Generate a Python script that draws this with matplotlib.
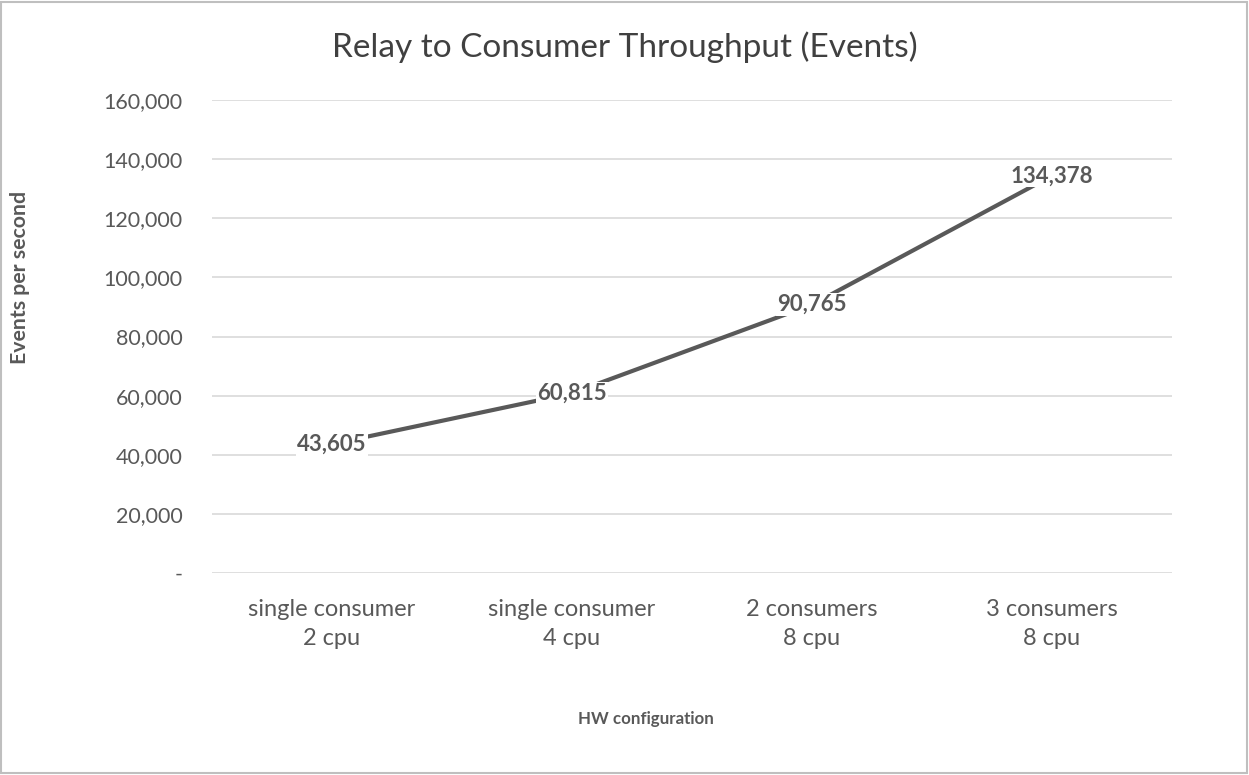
import matplotlib.pyplot as plt
from matplotlib.ticker import FuncFormatter

configs = ["single consumer\n2 cpu", "single consumer\n4 cpu", "2 consumers\n8 cpu", "3 consumers\n8 cpu"]
events_per_sec = [43605, 60815, 90765, 134378]
y_ticks = list(range(0, 160001, 20000))

plt.rcParams["font.family"] = ["Lato", "DejaVu Sans"]
GRAY = "#595959"

fig = plt.figure(figsize=(12.49, 7.75), dpi=100)
ax = fig.add_axes([0.1697, 0.2606, 0.7687, 0.6104])

xs = list(range(len(configs)))
ax.plot(xs, events_per_sec, color=GRAY, lw=3, solid_capstyle="round", zorder=3)
for x, v in zip(xs, events_per_sec):
    ax.text(x, v, f"{v:,}", ha="center", va="center", fontsize=16, fontweight="bold",
            color=GRAY, zorder=4,
            bbox=dict(boxstyle="square,pad=0.05", fc="white", ec="none"))

ax.set_xlim(-0.5, 3.5)
ax.set_ylim(0, 160000)
ax.set_yticks(y_ticks)
ax.yaxis.set_major_formatter(FuncFormatter(lambda v, _: "-" if v == 0 else f"{v:,.0f}"))
ax.set_xticks(xs)
ax.set_xticklabels(configs, linespacing=1.45)
ax.grid(axis="y", color="#d9d9d9", lw=1.2)
ax.set_axisbelow(True)
for s in ax.spines.values():
    s.set_visible(False)
ax.tick_params(length=0, labelcolor=GRAY)
ax.tick_params(axis="y", pad=21, labelsize=15.5)
ax.tick_params(axis="x", pad=19, labelsize=17)

fig.text(0.5, 0.939, "Relay to Consumer Throughput (Events)", ha="center", va="center",
         fontsize=24, color="#404040")
ax.set_ylabel("Events per second", fontsize=15.3, fontweight="bold", color=GRAY)
ax.yaxis.set_label_coords(-0.19, 0.624)
ax.set_xlabel("HW configuration", fontsize=12.2, fontweight="bold", color=GRAY)
ax.xaxis.set_label_coords(0.452, -0.291)

# thin grey frame around the whole chart
fig.patches.append(plt.Rectangle((0.001, 0.002), 0.997, 0.996, transform=fig.transFigure,
                                 fill=False, ec="#bfbfbf", lw=1.5))

fig.savefig("out.png", dpi=100, facecolor="white")
